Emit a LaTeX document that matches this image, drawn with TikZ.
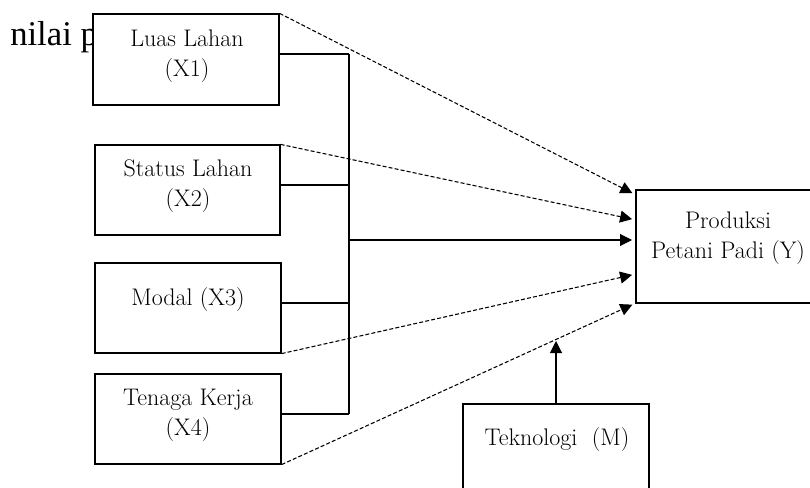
\documentclass[tikz,border=0pt]{standalone}
\usepackage{fontspec}
\newfontfamily\timesfont{Liberation Serif}
\usetikzlibrary{arrows.meta,fit}
\begin{document}
\begin{tikzpicture}[x=0.75pt,y=-0.75pt,
  box/.style={draw,line width=0.9pt,fill=white,inner sep=0pt},
  lbl/.style={align=center,inner sep=0pt,font=\fontsize{18}{22.5}\selectfont},
  link/.style={line width=0.8pt},
  dlink/.style={line width=0.8pt,dash pattern=on 3pt off 1.6pt,
     -{Triangle[length=9pt,width=9pt]},shorten >=3pt},
  slink/.style={line width=0.8pt,-{Triangle[length=9pt,width=9pt]},shorten >=3pt}]
\useasboundingbox (0,0) rectangle (810,488);
\clip (0,0) rectangle (810,488);
\node[anchor=base west,inner sep=0pt,font=\timesfont\fontsize{26}{30}\selectfont] (bg) at (10,46) {nilai pr};
% boxes
\node[box,fit={(93,14) (279,105)}] (x1) {};
\node[box,fit={(95,145) (280,235)}] (x2) {};
\node[box,fit={(95,263) (281,353)}] (x3) {};
\node[box,fit={(95,374) (281,464)}] (x4) {};
\node[box,fit={(636,190) (830,303)}] (y) {};
\node[box,fit={(463,404) (649,520)}] (m) {};
% labels
\node[lbl] (l1) at (187,56) {Luas Lahan\\(X1)};
\node[lbl] (l2) at (188,186) {Status Lahan\\(X2)};
\node[lbl] (l3) at (188,300) {Modal (X3)};
\node[lbl] (l4) at (188,415) {Tenaga Kerja\\(X4)};
\node[lbl] (ly) at (728,238) {Produksi\\Petani Padi (Y)};
\node[lbl] (lm) at (557,440) {Teknologi~~(M)};
% bus
\coordinate (b1) at (349,54);
\coordinate (b2) at (349,185);
\coordinate (b3) at (349,303);
\coordinate (b4) at (349,414);
\coordinate (bm) at (349,240);
\draw[link] (x1.east |- b1) -- (b1);
\draw[link] (x2.east |- b2) -- (b2);
\draw[link] (x3.east |- b3) -- (b3);
\draw[link] (x4.east |- b4) -- (b4);
\draw[link] (b1) -- (b4);
% targets on Y
\coordinate (t1) at (636,195);
\coordinate (t2) at (636,220);
\coordinate (t3) at (636,240);
\coordinate (t4) at (636,274);
\coordinate (t5) at (636,303);
\draw[dlink] (x1.north east) -- (t1);
\draw[dlink] (x2.north east) -- (t2);
\draw[slink] (bm) -- (t3);
\draw[dlink] (x3.south east) -- (t4);
\draw[dlink] (x4.south east) -- (t5);
% moderator
\coordinate (mt) at (556,341);
\draw[link,-{Triangle[length=9pt,width=9pt]}] (m.north -| mt) -- (mt);
\end{tikzpicture}
\end{document}
